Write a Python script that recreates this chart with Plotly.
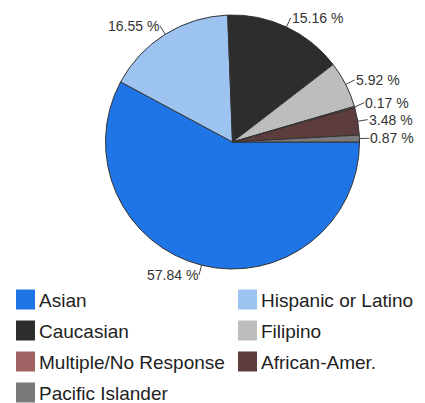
import math
import plotly.graph_objects as go

labels = ["Asian", "Hispanic or Latino", "Caucasian", "Filipino",
          "Multiple/No Response", "African-Amer.", "Pacific Islander"]
values = [57.84, 16.55, 15.16, 5.92, 0.17, 3.48, 0.87]
colors = ["#1f75e6", "#9dc3f1", "#2d2d2d", "#bdbdbd", "#a06262", "#5c3c3c", "#7a7a7a"]

# page has an 8px body margin; work in window pixels and convert
OFF = 8
W, H = 425 - OFF, 403 - OFF


def fx(px):
    return (px - OFF) / W


def fy(py):
    return 1 - (py - OFF) / H


cx, cy, r = 232.5, 142.0, 127.0

fig = go.Figure(go.Pie(
    labels=labels, values=values, sort=False, direction="clockwise", rotation=90,
    marker=dict(colors=colors, line=dict(color="#333333", width=1)),
    textinfo="none", hoverinfo="label+percent", showlegend=False,
    domain=dict(x=[fx(cx - r), fx(cx + r)], y=[fy(cy + r), fy(cy - r)]),
))

FONT = "Arial, Liberation Sans"
LABEL_SIZE = 14
GAP = 17
total = sum(values)
cum = 0.0
items = []
for v in values:
    mid = (cum + v / total / 2) * 2 * math.pi
    cum += v / total
    ca, sa = math.cos(mid), math.sin(mid)
    px, py = cx + r * ca, cy + r * sa
    tx, ty = cx + (r + 10) * ca, cy + (r + 10) * sa
    items.append(dict(v=v, px=px, py=py, tx=tx, ty=ty, right=ca > 0))

# simple de-overlap of right-side labels: push upward from the bottom
right_items = sorted([it for it in items if it["right"]], key=lambda d: -d["ty"])
for prev, cur in zip(right_items, right_items[1:]):
    if prev["ty"] - cur["ty"] < GAP:
        cur["ty"] = prev["ty"] - GAP

annotations = []
for it in items:
    annotations.append(dict(
        x=fx(it["px"]), y=fy(it["py"]), xref="paper", yref="paper",
        ax=it["tx"] - it["px"], ay=it["ty"] - it["py"], axref="pixel", ayref="pixel",
        text=f"{it['v']:.2f} %", showarrow=True, arrowhead=0, arrowwidth=1,
        arrowcolor="#444444", standoff=0, borderpad=0,
        xanchor="left" if it["right"] else "right", yanchor="middle",
        font=dict(family=FONT, size=LABEL_SIZE, color="#333333"),
    ))

# custom two-column legend
shapes = []
sq = 20
for i, (lab, col) in enumerate(zip(labels, colors)):
    colx = 16 + 222 * (i % 2)
    rowy = 299.5 + 31 * (i // 2)
    shapes.append(dict(type="rect", xref="paper", yref="paper",
                       x0=fx(colx), x1=fx(colx + sq - 1),
                       y0=fy(rowy - sq / 2), y1=fy(rowy + sq / 2),
                       fillcolor=col, line=dict(width=0)))
    annotations.append(dict(x=fx(colx + sq + 1), y=fy(rowy + 1), xref="paper", yref="paper",
                            text=lab, showarrow=False, xanchor="left", yanchor="middle",
                            font=dict(family=FONT, size=19, color="#222222")))

fig.update_layout(
    width=W, height=H, margin=dict(l=0, r=0, t=0, b=0, autoexpand=False),
    paper_bgcolor="white", plot_bgcolor="white",
    annotations=annotations, shapes=shapes,
    showlegend=False,
)

fig.write_html("out.html")
